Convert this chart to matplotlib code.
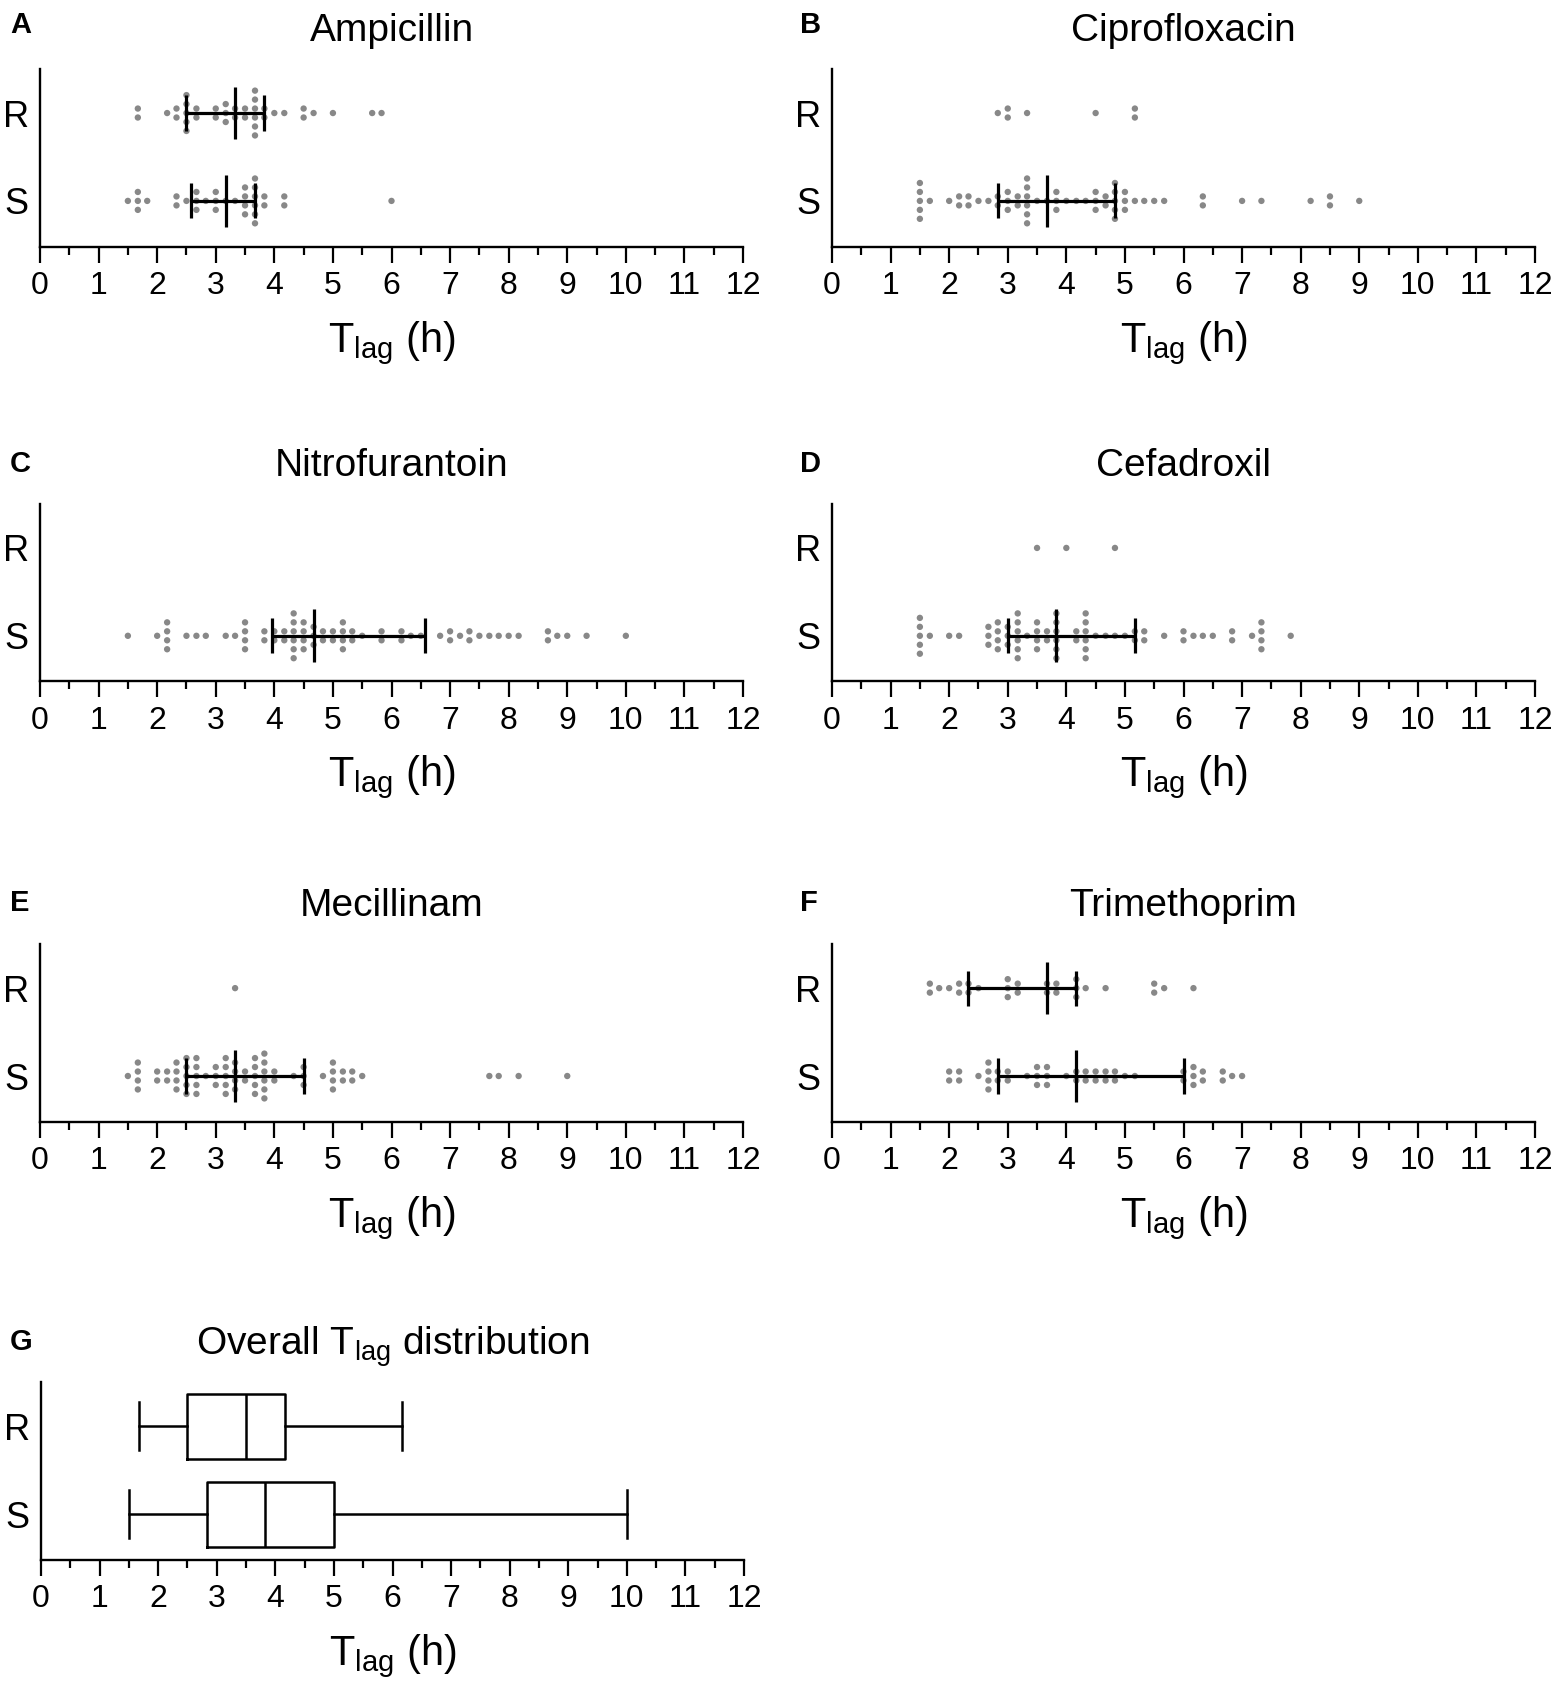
import numpy as np
import matplotlib
matplotlib.use("Agg")
import matplotlib.pyplot as plt
from matplotlib.ticker import MultipleLocator

plt.rcParams['font.family'] = ['Liberation Sans', 'DejaVu Sans']
plt.rcParams['mathtext.fontset'] = 'custom'
plt.rcParams['mathtext.rm'] = 'Liberation Sans'
plt.rcParams['mathtext.it'] = 'Liberation Sans'

# ---------------- data (T_lag in hours; value + number of isolates) -------------
categories = ["R", "S"]
titles = ["Ampicillin", "Ciprofloxacin", "Nitrofurantoin", "Cefadroxil",
          "Mecillinam", "Trimethoprim"]
letters = ["A", "B", "C", "D", "E", "F", "G"]

amp_R_vals = [1.67, 2.17, 2.33, 2.5, 2.67, 3.0, 3.17, 3.33, 3.5, 3.67, 3.83, 4.0, 4.17, 4.5, 4.67, 5.0, 5.67, 5.83]
amp_R_cnts = [2, 1, 2, 5, 2, 2, 3, 2, 2, 6, 2, 1, 1, 2, 1, 1, 1, 1]
amp_S_vals = [1.5, 1.67, 1.83, 2.33, 2.5, 2.67, 2.83, 3.0, 3.17, 3.33, 3.5, 3.67, 3.83, 4.17, 6.0]
amp_S_cnts = [1, 3, 1, 2, 1, 3, 1, 3, 1, 1, 4, 6, 2, 2, 1]

cip_R_vals = [2.83, 3.0, 3.33, 4.5, 5.17]
cip_R_cnts = [1, 2, 1, 1, 2]
cip_S_vals = [1.5, 1.67, 2.0, 2.17, 2.33, 2.5, 2.67, 2.83, 3.0, 3.17, 3.33, 3.5, 3.67, 3.83, 4.0, 4.17,
              4.33, 4.5, 4.67, 4.83, 5.0, 5.17, 5.33, 5.5, 5.67, 6.33, 7.0, 7.33, 8.17, 8.5, 9.0]
cip_S_cnts = [5, 1, 1, 2, 2, 1, 1, 2, 3, 2, 6, 1, 1, 3, 1, 1,
              1, 3, 2, 5, 3, 1, 1, 1, 1, 2, 1, 1, 1, 2, 1]

nit_R_vals = []
nit_R_cnts = []
nit_S_vals = [1.5, 2.0, 2.17, 2.5, 2.67, 2.83, 3.17, 3.33, 3.5, 3.83, 4.0, 4.17, 4.33, 4.5, 4.67, 4.83,
              5.0, 5.17, 5.33, 5.5, 5.83, 6.17, 6.33, 6.5, 6.83, 7.0, 7.17, 7.33, 7.5, 7.67, 7.83, 8.0,
              8.17, 8.67, 8.83, 9.0, 9.33, 10.0]
nit_S_cnts = [1, 1, 4, 1, 1, 1, 1, 1, 4, 2, 2, 2, 6, 4, 3, 2,
              2, 4, 2, 1, 2, 2, 1, 1, 1, 2, 1, 2, 1, 1, 1, 1,
              1, 2, 1, 1, 1, 1]

cef_R_vals = [3.5, 4.0, 4.83]
cef_R_cnts = [1, 1, 1]
cef_S_vals = [1.5, 1.67, 2.0, 2.17, 2.67, 2.83, 3.0, 3.17, 3.33, 3.5, 3.67, 3.83, 4.17, 4.33, 4.5,
              4.67, 4.83, 5.0, 5.17, 5.33, 5.67, 6.0, 6.17, 6.33, 6.5, 6.83, 7.17, 7.33, 7.83]
cef_S_cnts = [5, 1, 1, 1, 3, 4, 3, 6, 1, 4, 2, 6, 2, 6, 1,
              1, 1, 1, 2, 2, 1, 2, 1, 1, 1, 2, 1, 4, 1]

mec_R_vals = [3.33]
mec_R_cnts = [1]
mec_S_vals = [1.5, 1.67, 2.0, 2.17, 2.33, 2.5, 2.67, 2.83, 3.0, 3.17, 3.33, 3.5, 3.67, 3.83, 4.0,
              4.33, 4.5, 4.83, 5.0, 5.17, 5.33, 5.5, 7.67, 7.83, 8.17, 9.0]
mec_S_cnts = [1, 4, 2, 2, 4, 5, 5, 1, 3, 5, 4, 2, 5, 6, 2,
              1, 3, 1, 4, 2, 2, 1, 1, 1, 1, 1]

tmp_R_vals = [1.67, 1.83, 2.0, 2.17, 2.33, 2.5, 3.0, 3.17, 3.67, 3.83, 4.17, 4.33, 4.67, 5.5, 5.67, 6.17]
tmp_R_cnts = [2, 1, 1, 2, 2, 1, 3, 2, 2, 2, 3, 1, 1, 2, 1, 1]
tmp_S_vals = [2.0, 2.17, 2.5, 2.67, 2.83, 3.0, 3.33, 3.5, 3.67, 4.0, 4.17, 4.33, 4.5, 4.67, 4.83,
              5.0, 5.17, 6.0, 6.17, 6.33, 6.67, 6.83, 7.0]
tmp_S_cnts = [2, 2, 1, 4, 2, 2, 1, 3, 3, 1, 2, 2, 2, 2, 2,
              1, 1, 2, 3, 2, 2, 1, 1]

# median and interquartile range bars (median, Q1, Q3); None = no bar drawn
amp_R_bar = (3.33, 2.5, 3.83)
amp_S_bar = (3.17, 2.58, 3.67)
cip_R_bar = None
cip_S_bar = (3.67, 2.83, 4.83)
nit_R_bar = None
nit_S_bar = (4.67, 3.96, 6.58)
cef_R_bar = None
cef_S_bar = (3.83, 3.0, 5.17)
mec_R_bar = None
mec_S_bar = (3.33, 2.5, 4.5)
tmp_R_bar = (3.67, 2.33, 4.17)
tmp_S_bar = (4.17, 2.83, 6.0)

# overall distribution box plots: (min, Q1, median, Q3, max)
overall_R = (1.67, 2.5, 3.5, 4.17, 6.17)
overall_S = (1.5, 2.83, 3.83, 5.0, 10.0)

xticks_major = list(range(0, 13))

panels = [
    (amp_R_vals, amp_R_cnts, amp_S_vals, amp_S_cnts, amp_R_bar, amp_S_bar),
    (cip_R_vals, cip_R_cnts, cip_S_vals, cip_S_cnts, cip_R_bar, cip_S_bar),
    (nit_R_vals, nit_R_cnts, nit_S_vals, nit_S_cnts, nit_R_bar, nit_S_bar),
    (cef_R_vals, cef_R_cnts, cef_S_vals, cef_S_cnts, cef_R_bar, cef_S_bar),
    (mec_R_vals, mec_R_cnts, mec_S_vals, mec_S_cnts, mec_R_bar, mec_S_bar),
    (tmp_R_vals, tmp_R_cnts, tmp_S_vals, tmp_S_cnts, tmp_R_bar, tmp_S_bar),
]

# ---------------- figure ----------------
W, H = 1563, 1698
fig = plt.figure(figsize=(W / 100, H / 100), dpi=100)

col_left = [40 / W, 832 / W]
ax_w = 703 / W
row_bottom_px = [246.6, 681.5, 1121.7, 1559.8]
ax_h = 177.5 / H

Y_POS = {"R": 1.0, "S": 0.0}
DY = 0.102
XLABEL = r'T$_{\mathregular{lag}}$ (h)'


def style_axis(ax):
    ax.set_xlim(0, 12)
    ax.set_ylim(-0.52, 1.5)
    ax.spines['top'].set_visible(False)
    ax.spines['right'].set_visible(False)
    for s in ('left', 'bottom'):
        ax.spines[s].set_linewidth(1.7)
    ax.set_xticks(xticks_major)
    ax.xaxis.set_minor_locator(MultipleLocator(0.5))
    ax.tick_params(axis='x', which='major', direction='out', length=11.5, width=1.6,
                   labelsize=23, pad=6)
    ax.tick_params(axis='x', which='minor', direction='out', length=5.5, width=1.6)
    ax.set_yticks([Y_POS[c] for c in categories])
    ax.set_yticklabels(categories)
    ax.tick_params(axis='y', length=0, labelsize=26, pad=8)
    ax.set_xlabel(XLABEL, fontsize=30, labelpad=13)


def swarm(ax, vals, cnts, y0):
    for v, c in zip(vals, cnts):
        offs = (np.arange(c) - (c - 1) / 2.0) * DY
        ax.scatter(np.full(c, v), y0 + offs, s=21, color='#888888', edgecolors='none',
                   zorder=2, clip_on=False)


def medbar(ax, bar, y0):
    if bar is None:
        return
    med, q1, q3 = bar
    ax.hlines(y0, q1, q3, color='black', lw=2.3, zorder=3)
    ax.vlines([q1, q3], y0 - 0.2, y0 + 0.2, color='black', lw=2.3, zorder=3)
    ax.vlines(med, y0 - 0.3, y0 + 0.3, color='black', lw=2.3, zorder=3)


for i, (rv, rc, sv, sc, rb, sb) in enumerate(panels):
    row, col = divmod(i, 2)
    bottom = 1 - row_bottom_px[row] / H
    ax = fig.add_axes([col_left[col], bottom, ax_w, ax_h])
    swarm(ax, rv, rc, Y_POS["R"])
    swarm(ax, sv, sc, Y_POS["S"])
    medbar(ax, rb, Y_POS["R"])
    medbar(ax, sb, Y_POS["S"])
    style_axis(ax)
    ax.set_title(titles[i], fontsize=28, pad=20)

# overall box plot panel
axg = fig.add_axes([41 / W, 1 - row_bottom_px[3] / H, ax_w, ax_h])
stats = []
for cat, st in zip(categories, [overall_R, overall_S]):
    stats.append(dict(whislo=st[0], q1=st[1], med=st[2], q3=st[3], whishi=st[4],
                      fliers=[], label=cat))
axg.bxp(stats, positions=[Y_POS[c] for c in categories], orientation='horizontal',
        widths=0.74, capwidths=0.55, showfliers=False,
        boxprops=dict(color='black', lw=1.8),
        whiskerprops=dict(color='black', lw=1.8),
        capprops=dict(color='black', lw=1.8),
        medianprops=dict(color='black', lw=1.8))
style_axis(axg)
axg.set_title(r'Overall T$_{\mathregular{lag}}$ distribution', fontsize=28, pad=20)

# panel letters
letter_pos = [(10, 33), (800, 33), (10, 472), (800, 472), (10, 911), (800, 911), (10, 1350)]
for L, (px, py) in zip(letters, letter_pos):
    fig.text(px / W, 1 - py / H, L, fontsize=21, fontweight='bold', ha='left', va='baseline')

fig.savefig("out.png", dpi=100)
